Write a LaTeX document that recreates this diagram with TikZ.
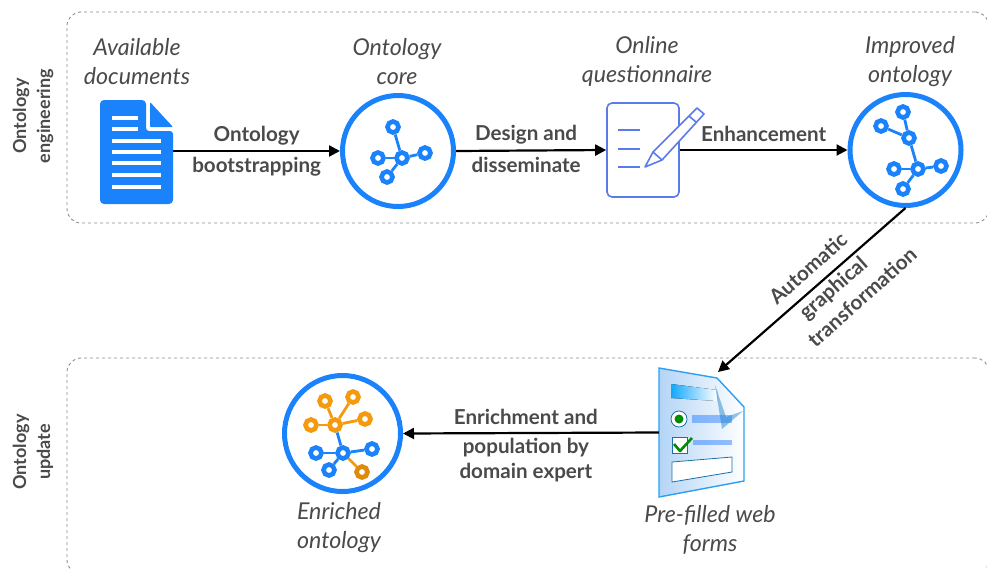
\documentclass[tikz,border=0pt]{standalone}
\usepackage{fontspec}
\setmainfont{Lato}
\usetikzlibrary{arrows.meta,positioning}
\definecolor{iconblue}{HTML}{1A82FB}
\definecolor{formblue}{HTML}{2AA0F5}
\definecolor{formpale}{HTML}{B4D4F6}
\definecolor{penblue}{HTML}{5B7BEA}
\definecolor{graphorange}{HTML}{F59A0C}
\definecolor{darkorange}{HTML}{E08A0A}
\definecolor{labelgray}{HTML}{4A4A4A}
\definecolor{boxgray}{HTML}{8C8C8C}
\tikzset{
  ontocircle/.style={circle, draw=iconblue, line width=5pt, fill=white, minimum size=111pt, inner sep=0pt},
  gnode/.style={circle, draw=iconblue, fill=white, line width=4.6pt, minimum size=11pt, inner sep=0pt},
  onode/.style={gnode, draw=graphorange},
  glink/.style={draw=iconblue, line width=2.8pt},
  olink/.style={draw=graphorange, line width=2.8pt},
  flow/.style={-{Triangle[length=11pt,width=11pt]}, line width=2.2pt, black},
  bold label/.style={font=\bfseries\fontsize{20.6}{29}\selectfont, text=labelgray, align=center, inner sep=3pt},
  caption/.style={font=\itshape\fontsize{23.2}{29}\selectfont, text=labelgray, align=center},
  side label/.style={font=\bfseries\fontsize{18}{24}\selectfont, text=labelgray, align=center, rotate=90},
  phase/.style={draw=boxgray, dashed, line width=0.9pt, rounded corners=14pt},
  docline/.style={white, line width=3.5pt},
  penline/.style={penblue, line width=1.6pt}
}
\begin{document}
\begin{tikzpicture}[x=1pt,y=-1pt]
  \useasboundingbox (0,0) rectangle (987,568);

  % phases
  \node[phase, minimum width=922pt, minimum height=211pt, inner sep=0pt] (engineering) at (528,117.5) {};
  \node[phase, minimum width=922pt, minimum height=216pt, inner sep=0pt] (update) at (528,466) {};
  \node[side label] (englabel) at (33,116) {Ontology\\engineering};
  \node[side label] (updlabel) at (33,452) {Ontology\\update};

  % document icon
  \node[minimum width=73pt, minimum height=104pt, inner sep=0pt] (doc) at (136.5,151) {};
  \fill[iconblue, rounded corners=4pt] (100,100) -- (146,100) [sharp corners] -- (146,124) [rounded corners=3pt] -- (146,131) -- (173,131) [rounded corners=4pt] -- (173,204) -- (100,204) -- cycle;
  \fill[iconblue, rounded corners=1pt] (150,102) -- (173,127) -- (150,127) -- cycle;
  \foreach \y in {118,129} \draw[docline] (112,\y) -- (138,\y);
  \foreach \y in {141,152,163,175,187} \draw[docline] (112,\y) -- (161,\y);

  % ontology core
  \node[ontocircle] (core) at (398,151) {};
  \node[gnode] (c0) at (402,158) {};
  \node[gnode] (c1) at (393,127) {};
  \node[gnode] (c2) at (378,158) {};
  \node[gnode] (c3) at (387,177) {};
  \node[gnode] (c4) at (425,153) {};
  \foreach \n in {c1,c2,c3,c4} \draw[glink] (c0) -- (\n);

  % questionnaire
  \node[draw=penblue, line width=1.6pt, rounded corners=5pt, fill=white, minimum width=72pt, minimum height=94pt, inner sep=0pt] (quest) at (643,150) {};
  \foreach \y in {130,149,167} \draw[penline] (618,\y) -- (640,\y);
  \draw[penline, fill=white, line join=round] (645,167) -- (653,152) -- (697,108) -- (704,114) -- (662,160) -- cycle;
  \draw[penline] (653,152) -- (662,160);
  \draw[penline] (689,116) -- (696,122);

  % improved ontology
  \node[ontocircle] (improved) at (905.5,150) {};
  \node[gnode] (i0) at (909,138) {};
  \node[gnode] (i1) at (903,112) {};
  \node[gnode] (i2) at (881,126) {};
  \node[gnode] (i3) at (918,169) {};
  \node[gnode] (i4) at (894,169) {};
  \node[gnode] (i5) at (941,166) {};
  \node[gnode] (i6) at (903,189) {};
  \foreach \a/\b in {i0/i1,i0/i2,i0/i3,i3/i4,i3/i5,i3/i6} \draw[glink] (\a) -- (\b);

  % web form
  \node[minimum width=85pt, minimum height=129pt, inner sep=0pt] (forms) at (701.5,432.5) {};
  \coordinate (formstop) at (718,372);
  \draw[formblue, line width=1.4pt, left color=formpale, right color=white] (659,368) -- (717,378) -- (744,407) -- (744,481) -- (659,497) -- cycle;
  \fill[left color=iconblue!70!cyan, right color=white] (671,384) -- (717,390) -- (717,401) -- (671,398) -- cycle;
  \fill[blue!60!cyan, opacity=.4] (692,415) rectangle (732,423);
  \fill[blue!60!cyan, opacity=.4] (693,440) rectangle (732,445);
  \fill[cyan!60!blue, opacity=.45] (715,385) -- (726,417) -- (743,411) -- (722,429) -- cycle;
  \draw[formblue!70!black, fill=white, line width=.8pt] (679,419) circle (8pt);
  \fill[green!55!black] (679,419) circle (4.5pt);
  \draw[formblue!70!black, fill=white, line width=.8pt] (672,437) rectangle (687,453);
  \draw[green!55!black, line width=2.6pt, line join=round] (674,444) -- (680,451) -- (692,438);
  \draw[formblue!70!black, fill=white, line width=.8pt] (672,462) -- (732,457) -- (732,472) -- (672,482) -- cycle;

  % enriched ontology
  \node[ontocircle, minimum size=116pt] (enriched) at (342.5,433.5) {};
  \node[onode] (e0) at (335,425) {};
  \node[onode] (e1) at (325,401) {};
  \node[onode] (e2) at (353,397) {};
  \node[onode] (e3) at (365,419) {};
  \node[onode] (e4) at (311,425) {};
  \node[gnode] (e5) at (343,453) {};
  \node[gnode] (e6) at (316,453) {};
  \node[gnode] (e7) at (372,449) {};
  \node[gnode] (e8) at (329,470) {};
  \node[onode, draw=darkorange] (e9) at (362,472) {};
  \foreach \n in {e1,e2,e3,e4} \draw[olink] (e0) -- (\n);
  \foreach \n in {e6,e7,e8} \draw[glink] (e5) -- (\n);
  \draw[glink] (e0) -- (e5);
  \draw[olink] (e5) -- (e9);

  % captions
  \node[caption] (cap1) at (137,61.5) {Available\\documents};
  \node[caption] (cap2) at (397,61.5) {Ontology\\core};
  \node[caption] (cap3) at (647,61.5) {Online\\questionnaire};
  \node[caption] (cap4) at (910,61.5) {Improved\\ontology};
  \node[caption] (cap5) at (339,527.5) {Enriched\\ontology};
  \node[caption] (cap6) at (710,529.5) {Pre-filled web\\forms};

  % flows
  \draw[flow] (doc.east) -- node[bold label, above=2pt] {Ontology} node[bold label, below=2.5pt] {bootstrapping} (core.west);
  \draw[flow] (core.east) -- node[bold label, above=2pt, xshift=-5pt] {Design and} node[bold label, below=2.5pt, xshift=-5pt] {disseminate} (quest.west);
  \draw[flow] (quest.east) -- node[bold label, above=4pt] {Enhancement} (improved.west);
  \draw[flow] (improved.south) -- (formstop);
  \draw[flow] (forms.west) -- node[bold label, above=4pt, xshift=-5pt] {Enrichment and} node[bold label, below=1pt, xshift=-5pt] {population by\\[-4pt]domain expert} (enriched.east);
  \node[bold label, rotate=41.6] (autolabel1) at (808,268) {Automatic};
  \node[bold label, rotate=41.6] (autolabel2) at (834,289) {graphical};
  \node[bold label, rotate=41.6] (autolabel3) at (862,297) {transformation};
\end{tikzpicture}
\end{document}
